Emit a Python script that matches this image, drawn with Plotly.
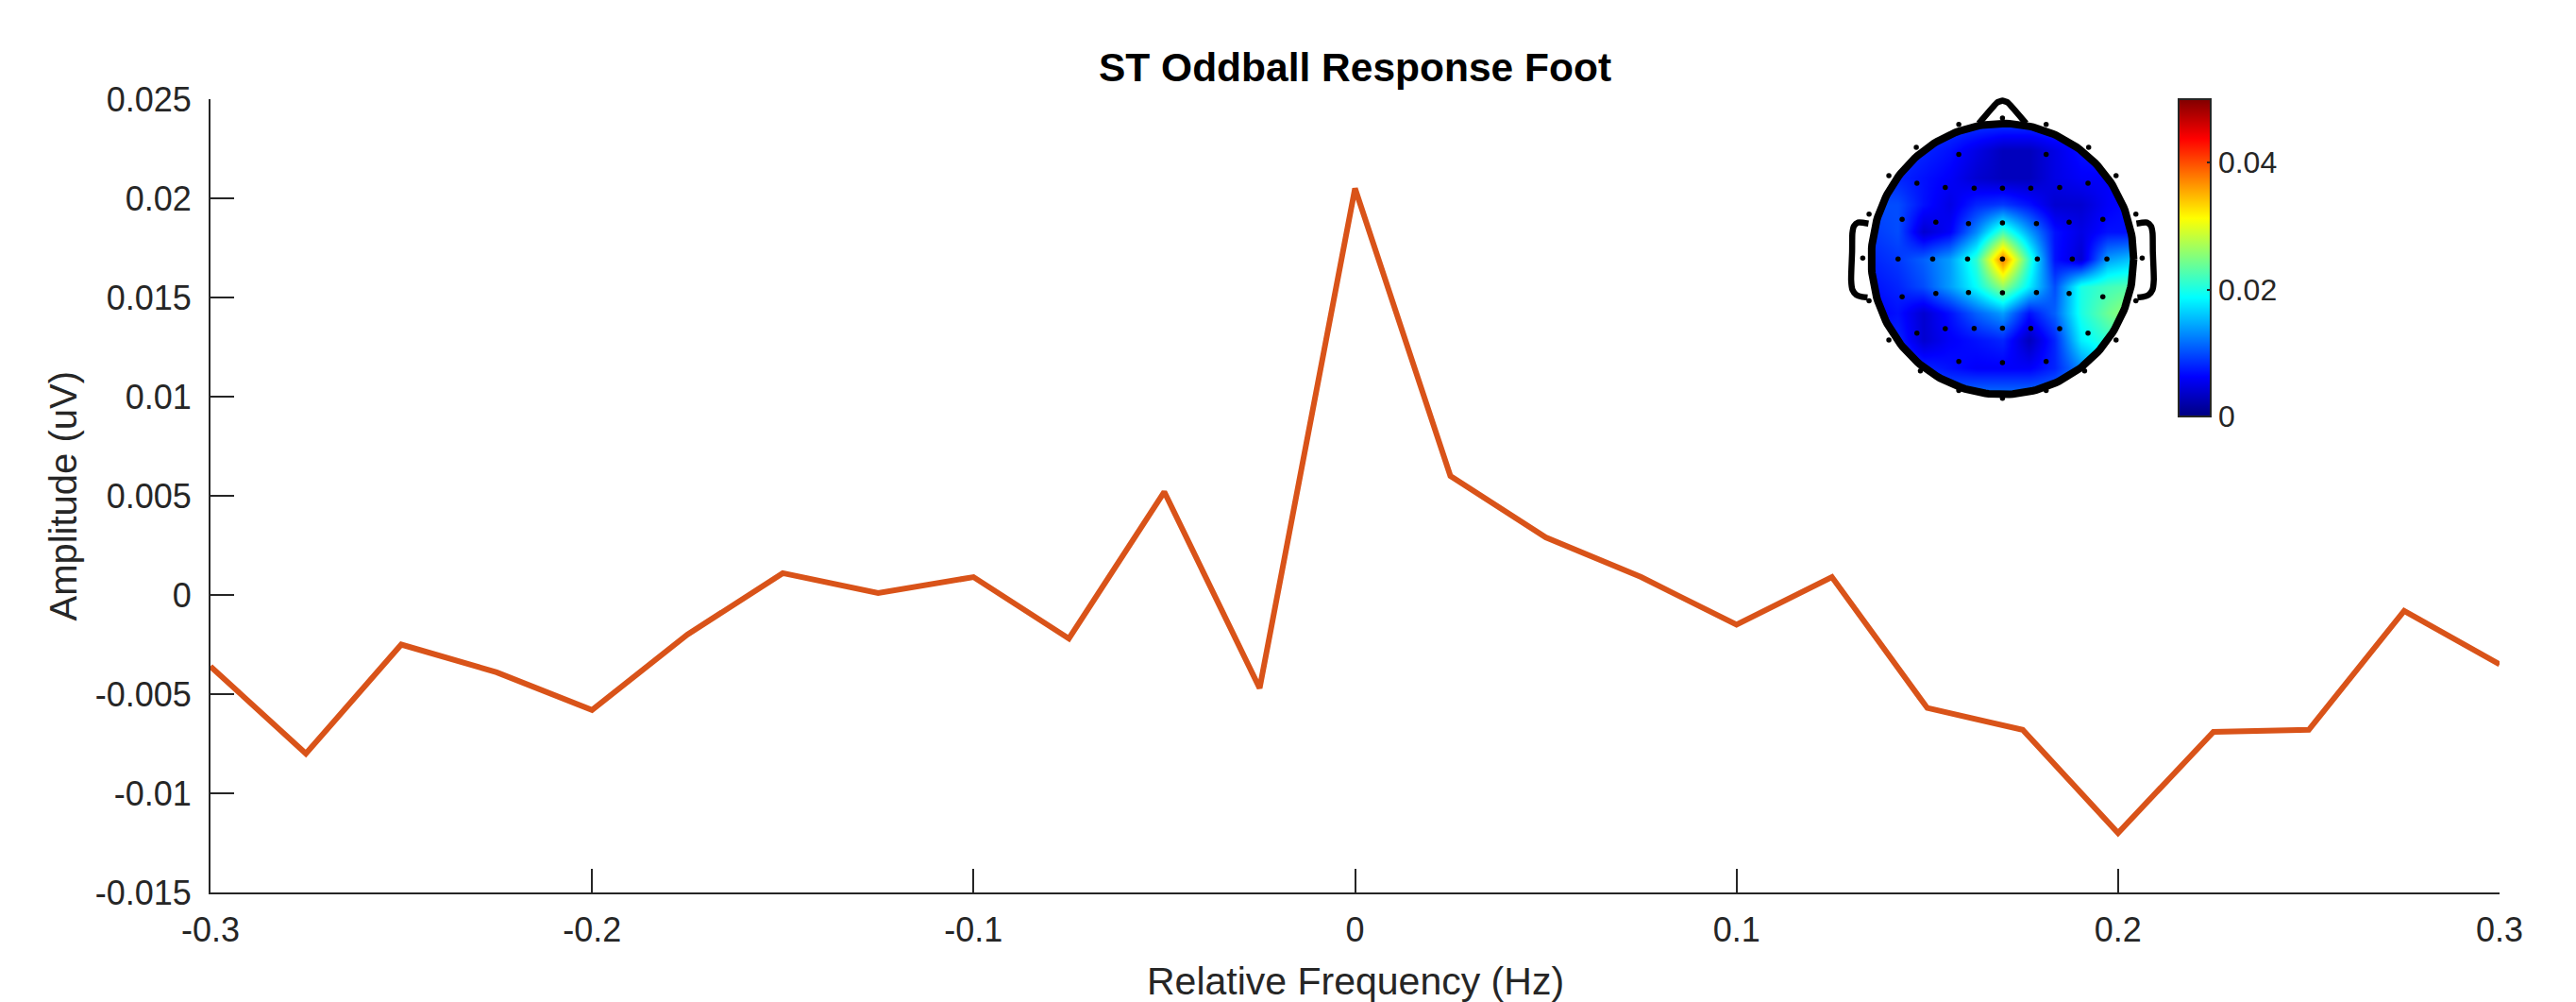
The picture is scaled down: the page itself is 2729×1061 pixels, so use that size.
import numpy as np
import plotly.graph_objects as go

# ---------------- main spectrum data ----------------
FREQ = [-0.3, -0.275, -0.25, -0.225, -0.2, -0.175, -0.15, -0.125, -0.1, -0.075,
        -0.05, -0.025, 0.0, 0.025, 0.05, 0.075, 0.1, 0.125, 0.15, 0.175,
        0.2, 0.225, 0.25, 0.275, 0.3]
AMP = [-0.0036, -0.0080, -0.0025, -0.0039, -0.0058, -0.0020, 0.0011, 0.0001, 0.0009, -0.0022,
       0.0052, -0.0047, 0.0205, 0.0060, 0.0029, 0.0009, -0.0015, 0.0009, -0.0057, -0.0068,
       -0.0120, -0.0069, -0.0068, -0.0008, -0.0035]

XTICKS = [-0.3, -0.2, -0.1, 0.0, 0.1, 0.2, 0.3]
XTICK_LABELS = ["-0.3", "-0.2", "-0.1", "0", "0.1", "0.2", "0.3"]
YTICKS = [-0.015, -0.01, -0.005, 0.0, 0.005, 0.01, 0.015, 0.02, 0.025]
YTICK_LABELS = ["-0.015", "-0.01", "-0.005", "0", "0.005", "0.01", "0.015", "0.02", "0.025"]

# ---------------- topography data (head units, radius 1) ----------------
TOPO_U = [-1.0, -0.8, -0.6, -0.4, -0.2, 0.0, 0.2, 0.4, 0.6, 0.8, 1.0]
TOPO_V = [-1.0, -0.8, -0.6, -0.4, -0.2, 0.0, 0.2, 0.4, 0.6, 0.8, 1.0]
TOPO_Z = [  # rows from v=-1 (back) to v=+1 (front)
    [.011, .011, .011, .011, .012, .012, .012, .012, .013, .014, .015],
    [.009, .009, .008, .007, .006, .006, .006, .008, .013, .017, .018],
    [.008, .008, .004, .006, .007, .008, .003, .008, .018, .021, .024],
    [.006, .007, .004, .007, .011, .014, .007, .011, .020, .024, .027],
    [.007, .008, .010, .014, .019, .026, .018, .010, .020, .022, .023],
    [.008, .009, .011, .014, .021, .038, .021, .007, .004, .014, .016],
    [.009, .010, .004, .006, .013, .022, .014, .007, .005, .007, .007],
    [.010, .010, .007, .005, .008, .009, .007, .004, .004, .006, .007],
    [.009, .008, .007, .006, .004, .003, .003, .005, .006, .006, .007],
    [.009, .009, .008, .007, .005, .003, .003, .005, .007, .008, .008],
    [.009, .009, .009, .009, .009, .009, .009, .009, .009, .009, .009],
]
ELEC_X = [-0.333, 0.333,
          -0.652, -0.436, -0.216, 0.0, 0.216, 0.436, 0.652,
          -0.765, -0.508, -0.259, 0.0, 0.259, 0.508, 0.765,
          -0.796, -0.532, -0.266, 0.0, 0.266, 0.532, 0.796,
          -0.765, -0.508, -0.259, 0.0, 0.259, 0.508, 0.765,
          -0.652, -0.436, -0.216, 0.0, 0.216, 0.436, 0.652,
          -0.333, 0.0, 0.333,
          0.0, -0.333, 0.333, -0.657, 0.657, -0.866, 0.866, -1.017, 1.017, -1.065, 1.065,
          -1.017, 1.017, -0.866, 0.866, -0.626, 0.626, -0.333, 0.333, 0.0]
ELEC_Y = [0.772, 0.772,
          0.559, 0.528, 0.523, 0.523, 0.523, 0.528, 0.559,
          0.292, 0.271, 0.261, 0.266, 0.261, 0.271, 0.292,
          0.0, 0.0, 0.0, 0.0, 0.0, 0.0, 0.0,
          -0.279, -0.254, -0.247, -0.250, -0.247, -0.254, -0.279,
          -0.547, -0.515, -0.513, -0.510, -0.513, -0.515, -0.547,
          -0.756, -0.765, -0.756,
          1.04, 0.993, 0.993, 0.823, 0.823, 0.614, 0.614, 0.331, 0.331, 0.006, 0.006,
          -0.308, -0.308, -0.598, -0.598, -0.826, -0.826, -0.97, -0.97, -1.028]
CBAR_TICKS = [0, 0.02, 0.04]
CBAR_LABELS = ["0", "0.02", "0.04"]
CMIN, CMAX = 0.0, 0.05

JET = [[0.0, "rgb(0,0,128)"], [0.125, "rgb(0,0,255)"], [0.375, "rgb(0,255,255)"],
       [0.625, "rgb(255,255,0)"], [0.875, "rgb(255,0,0)"], [1.0, "rgb(128,0,0)"]]

FONT = "Liberation Sans, Arial, Helvetica, sans-serif"
AX_COLOR = "#262626"

W, H = 2729, 1061
ML, MR, MT, MB = 222.5, 81, 90, 116
PW = W - ML - MR
PH = H - MT - MB


def px2x(px):
    return (px - ML) / PW


def py2y(py):
    return (H - MB - py) / PH


fig = go.Figure()

# main line
fig.add_trace(go.Scatter(x=FREQ, y=AMP, mode="lines",
                         line=dict(color="#D95319", width=6),
                         xaxis="x", yaxis="y", showlegend=False, hoverinfo="skip"))

# topography heatmap
fig.add_trace(go.Heatmap(x=TOPO_U, y=TOPO_V, z=TOPO_Z, zsmooth="best",
                         colorscale=JET, zmin=CMIN, zmax=CMAX,
                         xaxis="x2", yaxis="y2", hoverinfo="skip",
                         colorbar=dict(x=px2x(2308), xanchor="left", xref="paper",
                                       y=py2y(105), yanchor="top", yref="paper",
                                       lenmode="pixels", len=336,
                                       thicknessmode="pixels", thickness=34,
                                       xpad=0, ypad=0,
                                       outlinewidth=2, outlinecolor=AX_COLOR,
                                       ticks="inside", ticklen=5, tickwidth=2, tickcolor=AX_COLOR,
                                       tickvals=CBAR_TICKS, ticktext=CBAR_LABELS,
                                       tickfont=dict(family=FONT, size=32, color=AX_COLOR))))

# white mask outside the head circle (rect with circular hole)
th = np.linspace(0, 2 * np.pi, 241)
rx = [-1.3, 1.3, 1.3, -1.3, -1.3]
ry = [-1.25, -1.25, 1.25, 1.25, -1.25]
cx = list(-np.cos(th))
cy = list(np.sin(th))
mask_x = rx + [-1.0] + cx + [-1.0, -1.3]
mask_y = ry + [0.0] + cy + [0.0, -1.25]
fig.add_trace(go.Scatter(x=mask_x, y=mask_y, mode="lines", fill="toself",
                         fillcolor="white", line=dict(width=0, color="white"),
                         xaxis="x2", yaxis="y2", showlegend=False, hoverinfo="skip"))

# head outline
fig.add_trace(go.Scatter(x=np.cos(th), y=np.sin(th), mode="lines",
                         line=dict(color="black", width=8),
                         xaxis="x2", yaxis="y2", showlegend=False, hoverinfo="skip"))
nose_x = [-0.18, -0.04, 0.0, 0.04, 0.18]
nose_y = [1.0, 1.155, 1.168, 1.155, 1.0]
fig.add_trace(go.Scatter(x=nose_x, y=nose_y, mode="lines",
                         line=dict(color="black", width=6.5, shape="spline", smoothing=0.3),
                         xaxis="x2", yaxis="y2", showlegend=False, hoverinfo="skip"))
ear_u = [1.0216, 1.1007, 1.1319, 1.1439, 1.1463, 1.1535, 1.1439, 1.1127, 1.0695, 1.0288]
ear_v = [0.2613, 0.2683, 0.2427, 0.1916, 0.0523, -0.1568, -0.2265, -0.2660, -0.2799, -0.2846]
for sgn in (-1, 1):
    fig.add_trace(go.Scatter(x=[sgn * u for u in ear_u], y=ear_v, mode="lines",
                             line=dict(color="black", width=6.5, shape="spline", smoothing=0.6),
                             xaxis="x2", yaxis="y2", showlegend=False, hoverinfo="skip"))

# electrodes
fig.add_trace(go.Scatter(x=ELEC_X, y=ELEC_Y, mode="markers",
                         marker=dict(color="black", size=5.5),
                         xaxis="x2", yaxis="y2", showlegend=False, hoverinfo="skip"))

axis_common = dict(showline=True, linecolor=AX_COLOR, linewidth=2, mirror=False,
                   ticks="inside", ticklen=25, tickwidth=2, tickcolor=AX_COLOR,
                   showgrid=False, zeroline=False, automargin=False,
                   tickfont=dict(family=FONT, size=36, color=AX_COLOR))

fig.update_layout(
    width=W, height=H,
    margin=dict(l=ML, r=MR, t=MT, b=MB, pad=0, autoexpand=False),
    paper_bgcolor="white", plot_bgcolor="rgba(0,0,0,0)",
    showlegend=False,
    xaxis=dict(range=[-0.3, 0.3], tickvals=XTICKS, ticktext=XTICK_LABELS,
               domain=[0, 1], anchor="y", ticklabelstandoff=7, **axis_common),
    yaxis=dict(range=[-0.015, 0.025], tickvals=YTICKS, ticktext=YTICK_LABELS,
               domain=[0, py2y(105)], anchor="x", ticklabelstandoff=11, **axis_common),
    xaxis2=dict(domain=[px2x(2121.3 - 1.3 * 139), px2x(2121.3 + 1.3 * 139)],
                range=[-1.3, 1.3], anchor="y2", visible=False, fixedrange=True, automargin=False),
    yaxis2=dict(domain=[py2y(274.2 + 1.25 * 143.5), py2y(274.2 - 1.25 * 143.5)],
                range=[-1.25, 1.25], anchor="x2", visible=False, fixedrange=True, automargin=False),
    title=dict(text="ST Oddball Response Foot", x=0.5, xref="paper", xanchor="center",
               y=1 - 71 / H, yref="container", yanchor="middle", automargin=False,
               font=dict(family=FONT, size=42.5, color="black", weight="bold")),
    annotations=[
        dict(text="Amplitude (uV)", x=px2x(66), y=py2y(525), xref="paper", yref="paper",
             textangle=-90, showarrow=False, xanchor="center", yanchor="middle",
             font=dict(family=FONT, size=40, color=AX_COLOR)),
        dict(text="Relative Frequency (Hz)", x=0.5, y=py2y(1039), xref="paper", yref="paper",
             showarrow=False, xanchor="center", yanchor="middle",
             font=dict(family=FONT, size=41, color=AX_COLOR)),
    ],
)

fig.write_html("out.html", config={"displayModeBar": False},
               post_script="document.body.style.margin='0px';document.body.style.padding='0px';")
